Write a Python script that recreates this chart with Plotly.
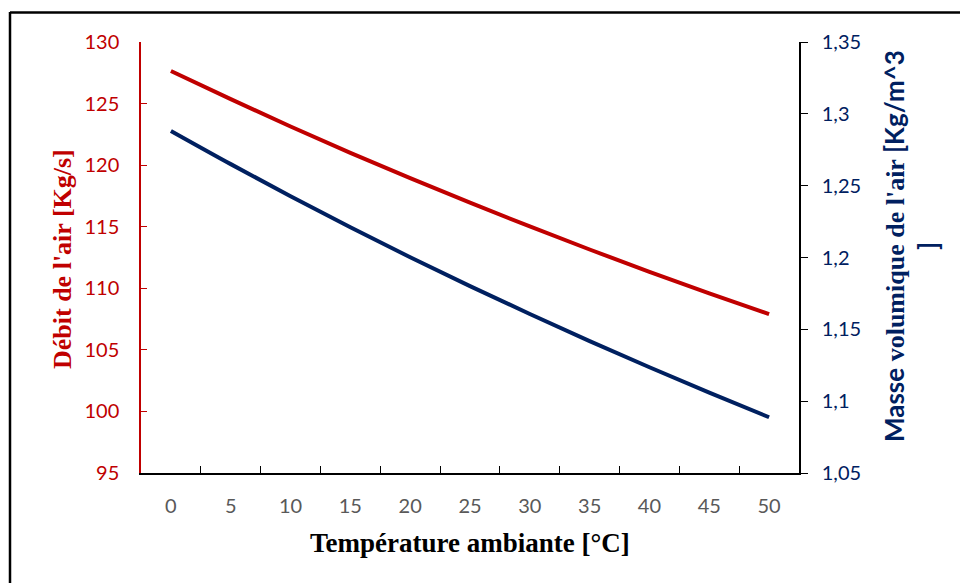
import plotly.graph_objects as go

temperature = ["0", "5", "10", "15", "20", "25", "30", "35", "40", "45", "50"]
debit_air = [127.65, 125.36, 123.14, 121.0, 118.94, 116.95, 115.02, 113.15, 111.34, 109.59, 107.9]
masse_vol = [1.2881, 1.2650, 1.2426, 1.2210, 1.2002, 1.1801, 1.1607, 1.1418, 1.1236, 1.1059, 1.0888]
left_ticks = [95, 100, 105, 110, 115, 120, 125, 130]
right_ticks = [1.05, 1.1, 1.15, 1.2, 1.25, 1.3, 1.35]
right_labels = ["1,05", "1,1", "1,15", "1,2", "1,25", "1,3", "1,35"]

RED = "#C00000"
NAVY = "#002060"
W, H = 960, 583
L, R, T, B = 141, 161, 42, 110
pw, ph = W - L - R, H - T - B

def px(x):
    return (x - L) / pw

def py(y):
    return (H - B - y) / ph

fig = go.Figure()
fig.add_trace(go.Scatter(x=temperature, y=debit_air, mode="lines", line=dict(color=RED, width=4, shape="spline"),
                         yaxis="y", showlegend=False))
fig.add_trace(go.Scatter(x=temperature, y=masse_vol, mode="lines", line=dict(color=NAVY, width=4, shape="spline"),
                         yaxis="y2", showlegend=False))

fig.update_layout(
    width=W, height=H,
    margin=dict(l=L, r=R, t=T, b=B),
    paper_bgcolor="white", plot_bgcolor="white",
    xaxis=dict(type="category", tickson="boundaries", ticks="inside", ticklen=7, tickcolor="black",
               showline=True, linecolor="black", linewidth=1.5, showgrid=False, zeroline=False,
               tickfont=dict(family="Lato", size=20, color="#595959"), ticklabelstandoff=14,
               range=[-0.5, 10.5]),
    yaxis=dict(range=[95, 130], tickvals=left_ticks, ticks="inside", ticklen=6, tickcolor=RED,
               showline=True, linecolor=RED, linewidth=1.5, showgrid=False, zeroline=False,
               tickfont=dict(family="Lato", size=20, color=RED), ticklabelstandoff=16),
    yaxis2=dict(range=[1.05, 1.35], tickvals=right_ticks, ticktext=right_labels, overlaying="y", side="right",
                ticks="outside", ticklen=7, tickcolor="black", showline=True, linecolor="black", linewidth=1.5,
                showgrid=False, zeroline=False,
                tickfont=dict(family="Lato", size=20, color=NAVY), ticklabelstandoff=10),
)

serif = "Liberation Serif"
fig.add_annotation(xref="paper", yref="paper", x=px(470), y=py(543), text="<b>Température ambiante [°C]</b>",
                   showarrow=False, font=dict(family=serif, size=27, color="black"), xanchor="center", yanchor="middle")
fig.add_annotation(xref="paper", yref="paper", x=px(62), y=py(259), text="<b>Débit de l'air [Kg/s]</b>",
                   showarrow=False, textangle=-90, font=dict(family=serif, size=26, color=RED),
                   xanchor="center", yanchor="middle")
right_title = ("<b><span style='font-family:Lato'>Masse</span> volumique de l'air "
               "<span style='font-family:Lato'>[Kg/m^3</span></b><br><b><span style='font-family:Lato'>]</span></b>")
fig.add_annotation(xref="paper", yref="paper", x=px(911), y=py(246), text=right_title,
                   showarrow=False, textangle=-90, font=dict(family=serif, size=26, color=NAVY),
                   xanchor="center", yanchor="middle", align="center")

# frame
fig.add_shape(type="line", xref="paper", yref="paper", x0=px(10), x1=px(960), y0=py(12.5), y1=py(12.5),
              line=dict(color="black", width=2.5))
fig.add_shape(type="line", xref="paper", yref="paper", x0=px(10), x1=px(10), y0=py(12), y1=py(583),
              line=dict(color="black", width=2.5))

fig.write_html("out.html")
